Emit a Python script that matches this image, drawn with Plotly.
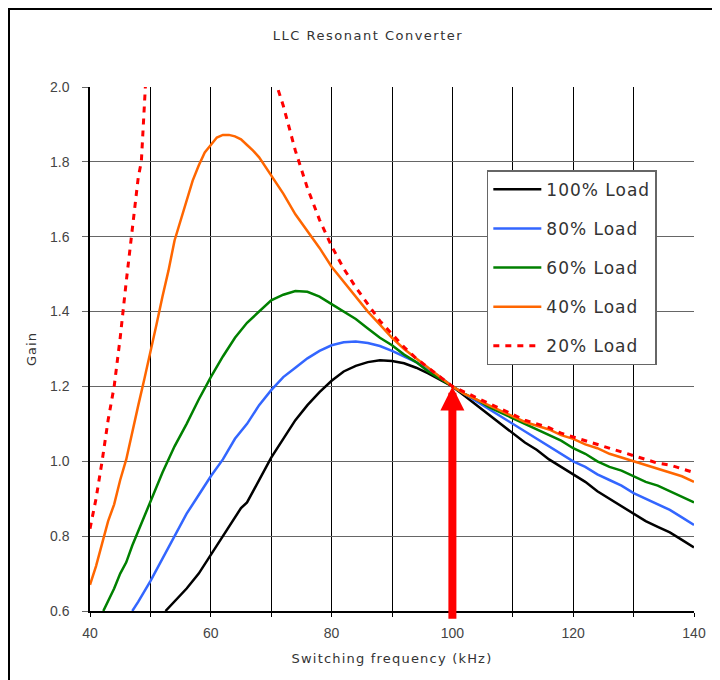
import plotly.graph_objects as go

# ---------------- data ----------------
x_100 = [52.5, 54, 56, 58, 60, 62, 64, 65, 66, 68, 70, 72, 74, 76, 78, 80, 82, 84, 86, 88, 90,
         92, 94, 96, 98, 100, 102, 104, 106, 108, 110, 112, 114, 116, 118, 120, 122, 124, 126,
         128, 130, 132, 134, 136, 138, 140]
y_100 = [0.600, 0.625, 0.660, 0.700, 0.750, 0.800, 0.850, 0.875, 0.890, 0.950, 1.010, 1.060,
         1.110, 1.150, 1.185, 1.215, 1.240, 1.255, 1.265, 1.270, 1.268, 1.262, 1.250, 1.235,
         1.218, 1.200, 1.175, 1.150, 1.125, 1.100, 1.075, 1.050, 1.030, 1.005, 0.985, 0.965,
         0.945, 0.920, 0.900, 0.880, 0.860, 0.840, 0.825, 0.810, 0.790, 0.770]

x_80 = [47, 48, 50, 52, 54, 56, 58, 60, 62, 64, 66, 68, 70, 72, 74, 76, 78, 80, 82, 84, 86, 88,
        90, 92, 94, 96, 98, 100, 102, 104, 106, 108, 110, 112, 114, 116, 118, 120, 122, 124,
        126, 128, 130, 132, 134, 136, 138, 140]
y_80 = [0.600, 0.625, 0.680, 0.740, 0.800, 0.860, 0.910, 0.960, 1.005, 1.060, 1.100, 1.150,
        1.190, 1.225, 1.250, 1.275, 1.295, 1.310, 1.318, 1.320, 1.316, 1.308, 1.295, 1.280,
        1.265, 1.245, 1.225, 1.200, 1.180, 1.160, 1.140, 1.120, 1.100, 1.080, 1.060, 1.040,
        1.020, 1.000, 0.985, 0.965, 0.950, 0.935, 0.915, 0.900, 0.885, 0.870, 0.850, 0.830]

x_60 = [42.2, 43, 44, 45, 46, 47, 48, 50, 52, 54, 56, 58, 60, 62, 64, 66, 68, 70, 72, 74, 76,
        78, 80, 82, 84, 86, 88, 90, 92, 94, 96, 98, 100, 102, 104, 106, 108, 110, 112, 114,
        116, 118, 120, 122, 124, 126, 128, 130, 132, 134, 136, 138, 140]
y_60 = [0.600, 0.625, 0.660, 0.700, 0.730, 0.775, 0.815, 0.890, 0.970, 1.040, 1.100, 1.165,
        1.225, 1.280, 1.330, 1.370, 1.400, 1.430, 1.445, 1.455, 1.453, 1.440, 1.420, 1.400,
        1.380, 1.355, 1.330, 1.310, 1.285, 1.265, 1.240, 1.220, 1.200, 1.180, 1.165, 1.145,
        1.130, 1.115, 1.100, 1.085, 1.070, 1.055, 1.035, 1.020, 1.000, 0.985, 0.975, 0.960,
        0.945, 0.935, 0.920, 0.905, 0.890]

x_40 = [40, 41, 42, 43, 44, 45, 46, 47, 48, 49, 50, 51, 52, 53, 54, 55, 56, 57, 58, 59, 60, 61,
        62, 63, 64, 65, 66, 67, 68, 70, 72, 74, 76, 78, 80, 82, 84, 86, 88, 90, 92, 94, 96, 98,
        100, 102, 104, 106, 108, 110, 112, 114, 116, 118, 120, 122, 124, 126, 128, 130, 132,
        134, 136, 138, 140]
y_40 = [0.670, 0.720, 0.780, 0.840, 0.885, 0.950, 1.005, 1.080, 1.150, 1.220, 1.290, 1.365,
        1.440, 1.510, 1.590, 1.645, 1.700, 1.750, 1.790, 1.825, 1.845, 1.865, 1.872, 1.872,
        1.868, 1.860, 1.845, 1.830, 1.812, 1.765, 1.715, 1.660, 1.615, 1.570, 1.520, 1.480,
        1.440, 1.400, 1.365, 1.330, 1.300, 1.275, 1.250, 1.225, 1.200, 1.180, 1.165, 1.150,
        1.135, 1.120, 1.105, 1.095, 1.085, 1.070, 1.060, 1.045, 1.035, 1.020, 1.010, 1.000,
        0.990, 0.980, 0.970, 0.960, 0.945]

x_20 = [40, 41, 42, 43, 44, 45, 46, 47, 48, 48.5, 49, 49.5, 52, 68, 70.5, 71, 72, 73, 74, 75,
        76, 78, 80, 82, 84, 86, 88, 90, 92, 94, 96, 98, 100, 102, 104, 106, 108, 110, 112, 114,
        116, 118, 120, 122, 124, 126, 128, 130, 132, 134, 136, 138, 140]
y_20 = [0.820, 0.900, 1.000, 1.110, 1.200, 1.330, 1.480, 1.620, 1.760, 1.800, 1.960, 2.100,
        2.600, 2.300, 2.030, 2.000, 1.950, 1.890, 1.830, 1.780, 1.730, 1.645, 1.575, 1.515,
        1.465, 1.420, 1.375, 1.340, 1.305, 1.275, 1.250, 1.225, 1.200, 1.185, 1.170, 1.155,
        1.140, 1.125, 1.110, 1.100, 1.090, 1.075, 1.065, 1.055, 1.045, 1.035, 1.025, 1.015,
        1.005, 0.995, 0.990, 0.980, 0.970]

series_names = ["100% Load", "80% Load", "60% Load", "40% Load", "20% Load"]
x_ticks = [40, 60, 80, 100, 120, 140]
x_grid = [40, 50, 60, 70, 80, 90, 100, 110, 120, 130, 140]
y_ticks = [0.6, 0.8, 1.0, 1.2, 1.4, 1.6, 1.8, 2.0]
arrow_freq = 100      # resonant frequency
arrow_gain = 1.2      # common gain point
arrow_base = 0.575


def spaced(t, px=1):
    return f'<span style="letter-spacing:{px}px">{t}</span>'


# ---------------- figure ----------------
styles = [
    dict(color="#000000", width=2.5),
    dict(color="#3366ff", width=2.5),
    dict(color="#008000", width=2.5),
    dict(color="#ff6600", width=2.5),
    dict(color="#ff0000", width=3, dash="6px,6px"),
]
xs = [x_100, x_80, x_60, x_40, x_20]
ys = [y_100, y_80, y_60, y_40, y_20]

fig = go.Figure()
for i, (name, xv, yv, st) in enumerate(zip(series_names, xs, ys, styles)):
    fig.add_trace(go.Scatter(x=xv, y=yv, mode="lines", name=spaced(name, 1), line=st,
                             legendgroup=f"g{i}"))

fig.add_annotation(x=arrow_freq, y=arrow_gain, ax=arrow_freq, ay=arrow_base,
                   xref="x", yref="y", axref="x", ayref="y",
                   showarrow=True, arrowhead=2, arrowsize=0.6, arrowwidth=8,
                   arrowcolor="#ff0000", standoff=0, text="")

# outer frame (left and top edges visible)
fig.add_shape(type="rect", xref="paper", yref="paper",
              x0=-0.1341, x1=1.2, y0=-0.3, y1=1.1489,
              line=dict(color="#000000", width=2), fillcolor="rgba(0,0,0,0)", layer="below")

W, H = 712, 672
fig.update_layout(
    width=W, height=H,
    margin=dict(l=82, r=26, t=79, b=69),
    paper_bgcolor="white", plot_bgcolor="white",
    title=dict(text=spaced("LLC Resonant Converter", 1.5), x=(368 - 8) / W, xanchor="center",
               y=1 - 27 / H, yanchor="middle",
               font=dict(family="DejaVu Sans", size=13, color="#333333")),
    legend=dict(x=0.657, y=0.841, xanchor="left", yanchor="top",
                bgcolor="white", bordercolor="#666666", borderwidth=1.5,
                font=dict(family="DejaVu Sans", size=17, color="#333333"),
                tracegroupgap=14, itemwidth=48),
    xaxis=dict(range=[40, 140], tickmode="array", tickvals=x_grid,
               ticktext=[str(v) if v in x_ticks else "" for v in x_grid],
               showgrid=True, gridcolor="#000000", gridwidth=1,
               showline=True, linecolor="#000000", linewidth=1.5,
               ticks="outside", ticklen=4, tickcolor="#000000", ticklabelstandoff=4,
               tickfont=dict(family="Liberation Sans", size=14, color="#444444"),
               title=dict(text=spaced("Switching frequency (kHz)", 1.2), standoff=14,
                          font=dict(family="DejaVu Sans", size=13, color="#333333")),
               zeroline=False),
    yaxis=dict(range=[0.6, 2.0], tickmode="array", tickvals=y_ticks, tickformat=".1f",
               showgrid=True, gridcolor="#666666", gridwidth=1.3,
               showline=True, linecolor="#000000", linewidth=1.5,
               ticks="outside", ticklen=6, tickcolor="#666666", ticklabelstandoff=10,
               tickfont=dict(family="Liberation Sans", size=14, color="#444444"),
               title=dict(text=spaced("Gain", 1), standoff=10,
                          font=dict(family="DejaVu Sans", size=13, color="#333333")),
               zeroline=False),
)

fig.write_html("out.html")
